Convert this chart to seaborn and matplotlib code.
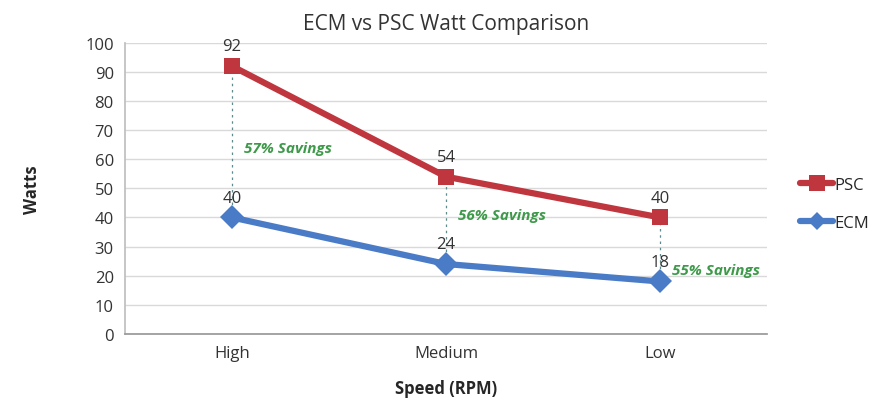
import matplotlib
matplotlib.use("Agg")
import matplotlib.pyplot as plt
from matplotlib.lines import Line2D
import seaborn as sns
import pandas as pd

# data
speeds = ["High", "Medium", "Low"]
psc_watts = [92, 54, 40]
ecm_watts = [40, 24, 18]
savings = ["57% Savings", "56% Savings", "55% Savings"]
savings_y = [64, 41, 22]

sns.set_theme(style="white")
plt.rcParams["font.family"] = ["Open Sans", "DejaVu Sans"]

df = pd.DataFrame({
    "speed": speeds * 2,
    "watts": psc_watts + ecm_watts,
    "motor": ["PSC"] * 3 + ["ECM"] * 3,
})
df["x"] = df["speed"].map({s: i for i, s in enumerate(speeds)})

fig = plt.figure(figsize=(8.92, 4.02), dpi=100)
ax = fig.add_axes([0.140, 0.167, 0.72, 0.724])

colors = {"PSC": "#C0363E", "ECM": "#4A7BC6"}
markers = {"PSC": "s", "ECM": "D"}
sns.lineplot(data=df, x="x", y="watts", hue="motor", style="motor",
             palette=colors, markers=markers, dashes=False, linewidth=4.5,
             markersize=12, markeredgewidth=0, ax=ax, legend=False)

# dotted connectors and labels
for i in range(len(speeds)):
    ax.plot([i, i], [ecm_watts[i], psc_watts[i]], color="#5E8C8C",
            linestyle=(0, (2, 3)), linewidth=0.9, zorder=1)
    ax.text(i + 0.055, savings_y[i], savings[i],
            color="#3E9A4A", fontsize=11, fontstyle="italic",
            fontweight="bold", va="center", ha="left")
    ax.text(i, psc_watts[i] + 4, str(psc_watts[i]), ha="center",
            va="bottom", fontsize=12, color="#333333")
    ax.text(i, ecm_watts[i] + 4, str(ecm_watts[i]), ha="center",
            va="bottom", fontsize=12, color="#333333")

ax.set_xlim(-0.5, 2.5)
ax.set_ylim(0, 100)
ax.set_yticks(range(0, 101, 10))
ax.set_xticks(range(len(speeds)))
ax.set_xticklabels(speeds)
ax.tick_params(axis="both", labelsize=12, colors="#333333", length=0, pad=8)
ax.yaxis.grid(True, color="#D9D9D9", linewidth=1)
ax.set_axisbelow(True)
for side in ["top", "right"]:
    ax.spines[side].set_visible(False)
ax.spines["left"].set_color("#BFBFBF")
ax.spines["bottom"].set_color("#999999")

ax.set_xlabel("Speed (RPM)", fontsize=12, fontweight="bold", labelpad=13)
ax.set_ylabel("Watts", fontsize=12, fontweight="bold", labelpad=32)
ax.set_title("ECM vs PSC Watt Comparison", fontsize=15, color="#333333", pad=10)

# legend on the right
handles = [Line2D([], [], color=colors[m], marker=markers[m], linewidth=4.5,
                  markersize=11 if m == "PSC" else 9, markeredgewidth=0)
           for m in ["PSC", "ECM"]]
fig.legend(handles, ["PSC", "ECM"], loc="center left",
           bbox_to_anchor=(0.893, 0.49), frameon=False, fontsize=12,
           handlelength=2.0, handletextpad=0.05, labelspacing=1.3,
           borderpad=0.2, borderaxespad=0)

fig.savefig("out.png", dpi=100)
